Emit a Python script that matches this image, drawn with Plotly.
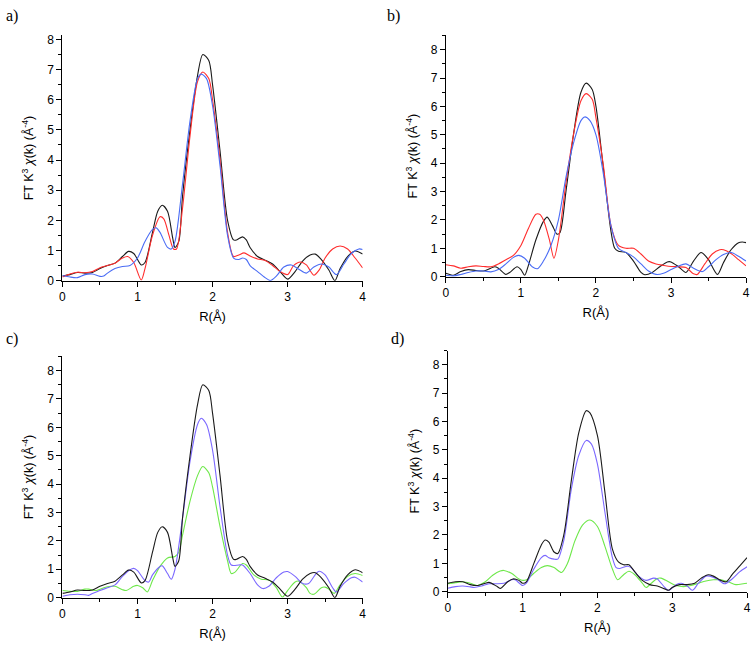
import plotly.graph_objects as go

W, H = 756, 645

# ---------------- data ----------------
# panel a
a_black_r = [0, 0.1, 0.2, 0.3, 0.4, 0.5, 0.6, 0.7, 0.8, 0.88, 0.95, 1.05, 1.1, 1.2, 1.27, 1.33, 1.4, 1.47, 1.5, 1.55, 1.6, 1.7, 1.8, 1.87, 1.95, 2.0, 2.1, 2.2, 2.28, 2.32, 2.4, 2.45, 2.5, 2.6, 2.7, 2.8, 2.9, 3.0, 3.1, 3.2, 3.3, 3.37, 3.45, 3.55, 3.63, 3.7, 3.8, 3.9, 4.0]
a_black_y = [0.15, 0.2, 0.27, 0.25, 0.27, 0.4, 0.5, 0.58, 0.8, 0.97, 0.9, 0.52, 0.6, 1.6, 2.3, 2.5, 2.3, 1.4, 1.1, 1.3, 2.8, 5.0, 6.8, 7.5, 7.3, 6.5, 4.3, 2.0, 1.35, 1.35, 1.45, 1.35, 1.1, 0.8, 0.68, 0.55, 0.3, 0.05, 0.3, 0.65, 0.85, 0.88, 0.7, 0.35, 0.0, 0.4, 0.8, 0.98, 0.88]

a_red_r = [0, 0.1, 0.2, 0.3, 0.4, 0.5, 0.6, 0.7, 0.8, 0.87, 0.95, 1.05, 1.1, 1.2, 1.3, 1.35, 1.42, 1.48, 1.52, 1.6, 1.7, 1.8, 1.87, 1.95, 2.0, 2.1, 2.2, 2.28, 2.35, 2.42, 2.5, 2.6, 2.7, 2.8, 2.9, 3.0, 3.08, 3.17, 3.25, 3.35, 3.42, 3.5, 3.6, 3.7, 3.8, 3.9, 4.0]
a_red_y = [0.12, 0.22, 0.28, 0.26, 0.3, 0.43, 0.5, 0.58, 0.75, 0.8, 0.6, 0.02, 0.4, 1.5, 2.12, 2.05, 1.5, 1.05, 1.05, 2.4, 4.8, 6.6, 6.92, 6.7, 6.0, 4.0, 1.6, 0.8, 0.85, 0.92, 0.82, 0.72, 0.67, 0.5, 0.3, 0.2, 0.5, 0.62, 0.52, 0.18, 0.35, 0.75, 1.05, 1.15, 1.05, 0.75, 0.42]

a_blue_r = [0, 0.1, 0.2, 0.3, 0.4, 0.5, 0.55, 0.6, 0.7, 0.8, 0.9, 1.0, 1.1, 1.2, 1.25, 1.3, 1.4, 1.45, 1.5, 1.6, 1.7, 1.8, 1.85, 1.92, 2.0, 2.1, 2.2, 2.28, 2.35, 2.4, 2.45, 2.5, 2.6, 2.7, 2.77, 2.85, 2.95, 3.05, 3.15, 3.25, 3.35, 3.45, 3.55, 3.65, 3.75, 3.85, 3.95, 4.0]
a_blue_y = [0.17, 0.12, 0.1, 0.2, 0.22, 0.14, 0.15, 0.25, 0.4, 0.47, 0.5, 0.75, 1.3, 1.7, 1.75, 1.6, 1.1, 1.05, 1.3, 3.2, 5.3, 6.7, 6.85, 6.7, 5.8, 3.8, 1.5, 0.75, 0.7, 0.75, 0.7, 0.5, 0.3, 0.1, 0.0, 0.15, 0.45, 0.52, 0.38, 0.25, 0.45, 0.55, 0.45, 0.2, 0.55, 0.9, 1.05, 1.03]

# panel b
b_black_r = [0, 0.05, 0.1, 0.2, 0.3, 0.4, 0.5, 0.6, 0.65, 0.7, 0.8, 0.85, 0.95, 1.0, 1.05, 1.1, 1.2, 1.3, 1.35, 1.42, 1.48, 1.52, 1.6, 1.7, 1.8, 1.87, 1.95, 2.0, 2.1, 2.2, 2.25, 2.3, 2.4, 2.5, 2.6, 2.65, 2.75, 2.85, 2.95, 3.0, 3.1, 3.2, 3.3, 3.4, 3.5, 3.55, 3.62, 3.7, 3.8, 3.9, 3.95, 4.0]
b_black_y = [0.12, 0.08, 0.05, 0.18, 0.25, 0.22, 0.2, 0.3, 0.35, 0.3, 0.08, 0.15, 0.35, 0.25, 0.05, 0.4, 1.3, 1.95, 2.1, 1.8, 1.5, 1.55, 3.0, 5.0, 6.5, 6.82, 6.6, 6.0, 3.8, 1.6, 1.0, 0.9, 0.85, 0.55, 0.15, 0.07, 0.15, 0.35, 0.52, 0.52, 0.35, 0.15, 0.55, 0.85, 0.6, 0.35, 0.08, 0.5, 0.95, 1.2, 1.22, 1.2]

b_red_r = [0, 0.1, 0.2, 0.3, 0.4, 0.5, 0.6, 0.7, 0.8, 0.9, 1.0, 1.1, 1.2, 1.25, 1.3, 1.38, 1.44, 1.5, 1.6, 1.7, 1.8, 1.87, 1.95, 2.0, 2.1, 2.2, 2.3, 2.4, 2.5, 2.6, 2.7, 2.8, 2.9, 3.0, 3.1, 3.2, 3.3, 3.35, 3.45, 3.55, 3.65, 3.7, 3.8, 3.9, 4.0]
b_red_y = [0.42, 0.38, 0.3, 0.35, 0.38, 0.36, 0.35, 0.45, 0.6, 0.75, 1.1, 1.7, 2.2, 2.2, 2.0, 1.3, 0.65, 1.3, 3.3, 5.0, 6.2, 6.45, 6.25, 5.6, 3.9, 1.8, 1.1, 1.0, 1.0, 0.8, 0.55, 0.45, 0.4, 0.36, 0.35, 0.32, 0.1, 0.08, 0.45, 0.8, 0.95, 0.95, 0.82, 0.6, 0.38]

b_blue_r = [0, 0.1, 0.2, 0.3, 0.4, 0.5, 0.6, 0.7, 0.8, 0.9, 0.97, 1.05, 1.15, 1.22, 1.3, 1.4, 1.5, 1.6, 1.7, 1.8, 1.85, 1.92, 2.0, 2.1, 2.2, 2.3, 2.4, 2.5, 2.6, 2.7, 2.8, 2.9, 3.0, 3.1, 3.2, 3.3, 3.42, 3.5, 3.6, 3.7, 3.8, 3.9, 4.0]
b_blue_y = [0.05, 0.03, 0.08, 0.15, 0.2, 0.2, 0.17, 0.25, 0.45, 0.68, 0.75, 0.65, 0.35, 0.28, 0.55, 1.1, 2.0, 3.5, 4.7, 5.5, 5.63, 5.5, 5.0, 3.6, 1.8, 1.0, 0.85, 0.7, 0.45, 0.2, 0.08, 0.12, 0.25, 0.38, 0.45, 0.3, 0.18, 0.35, 0.6, 0.78, 0.85, 0.72, 0.55]

# panel c
c_black_r = a_black_r
c_black_y = a_black_y

c_blue_r = [0, 0.1, 0.2, 0.3, 0.35, 0.4, 0.5, 0.6, 0.7, 0.8, 0.9, 0.95, 1.0, 1.1, 1.15, 1.2, 1.3, 1.33, 1.4, 1.45, 1.5, 1.6, 1.7, 1.8, 1.85, 1.92, 2.0, 2.1, 2.2, 2.25, 2.35, 2.4, 2.5, 2.6, 2.67, 2.75, 2.85, 2.95, 3.0, 3.1, 3.2, 3.28, 3.38, 3.42, 3.5, 3.6, 3.65, 3.75, 3.85, 3.9, 4.0]
c_blue_y = [0.05, 0.1, 0.12, 0.1, 0.08, 0.15, 0.25, 0.35, 0.45, 0.75, 0.98, 1.03, 0.95, 0.6, 0.55, 0.8, 1.1, 1.12, 0.85, 0.65, 1.0, 2.8, 4.8, 6.1, 6.32, 6.1, 5.2, 3.2, 1.5, 1.15, 1.15, 1.15, 0.85, 0.45, 0.32, 0.4, 0.7, 0.9, 0.92, 0.75, 0.5, 0.5, 0.85, 0.93, 0.8, 0.35, 0.2, 0.5, 0.7, 0.72, 0.55]

c_green_r = [0, 0.1, 0.2, 0.3, 0.35, 0.45, 0.55, 0.65, 0.7, 0.8, 0.85, 0.95, 1.0, 1.07, 1.13, 1.2, 1.3, 1.4, 1.5, 1.55, 1.6, 1.7, 1.8, 1.87, 1.95, 2.0, 2.1, 2.2, 2.25, 2.3, 2.4, 2.45, 2.55, 2.65, 2.75, 2.85, 2.93, 3.0, 3.1, 3.15, 3.25, 3.3, 3.35, 3.45, 3.5, 3.55, 3.62, 3.7, 3.8, 3.9, 4.0]
c_green_y = [0.25, 0.22, 0.22, 0.3, 0.3, 0.25, 0.35, 0.4, 0.4, 0.28, 0.25, 0.4, 0.43, 0.35, 0.2, 0.6, 1.1, 1.4, 1.45, 1.6, 2.2, 3.4, 4.3, 4.62, 4.4, 3.9, 2.5, 1.3, 0.85, 0.9, 1.2, 1.15, 0.8, 0.65, 0.62, 0.35, 0.02, 0.25, 0.55, 0.58, 0.35, 0.15, 0.12, 0.35, 0.37, 0.3, 0.15, 0.45, 0.75, 0.85, 0.78]

# panel d
d_black_r = [0, 0.1, 0.2, 0.3, 0.4, 0.5, 0.55, 0.65, 0.7, 0.8, 0.87, 0.95, 1.0, 1.05, 1.15, 1.25, 1.3, 1.35, 1.42, 1.47, 1.55, 1.65, 1.75, 1.85, 1.9, 2.0, 2.1, 2.2, 2.28, 2.35, 2.42, 2.5, 2.6, 2.7, 2.8, 2.9, 2.95, 3.0, 3.1, 3.2, 3.3, 3.4, 3.48, 3.55, 3.65, 3.72, 3.8, 3.9, 4.0]
d_black_y = [0.3, 0.35, 0.35, 0.25, 0.22, 0.3, 0.33, 0.2, 0.12, 0.35, 0.45, 0.4, 0.3, 0.35, 1.0, 1.65, 1.82, 1.75, 1.4, 1.35, 2.0, 3.9, 5.6, 6.38, 6.3, 5.5, 3.5, 1.5, 1.05, 0.95, 0.95, 0.7, 0.4, 0.25, 0.2, 0.1, 0.05, 0.15, 0.25, 0.25, 0.3, 0.5, 0.6, 0.55, 0.4, 0.35, 0.6, 0.9, 1.2]

d_blue_r = [0, 0.1, 0.2, 0.3, 0.35, 0.45, 0.55, 0.65, 0.75, 0.85, 0.9, 1.0, 1.05, 1.15, 1.25, 1.3, 1.35, 1.42, 1.47, 1.55, 1.65, 1.75, 1.85, 1.92, 2.0, 2.1, 2.2, 2.25, 2.3, 2.4, 2.45, 2.55, 2.65, 2.75, 2.8, 2.9, 2.95, 3.05, 3.12, 3.2, 3.27, 3.35, 3.45, 3.5, 3.6, 3.7, 3.8, 3.9, 4.0]
d_blue_y = [0.12, 0.18, 0.2, 0.17, 0.15, 0.2, 0.28, 0.28, 0.3, 0.42, 0.42, 0.22, 0.3, 0.8, 1.2, 1.28, 1.2, 1.15, 1.15, 1.8, 3.6, 4.8, 5.33, 5.2, 4.5, 2.8, 1.2, 0.85, 0.82, 0.9, 0.85, 0.55, 0.4, 0.48, 0.45, 0.15, 0.05, 0.25, 0.3, 0.2, 0.05, 0.3, 0.55, 0.55, 0.45, 0.28, 0.45, 0.7, 0.88]

d_green_r = [0, 0.1, 0.2, 0.3, 0.4, 0.5, 0.6, 0.7, 0.75, 0.85, 0.95, 1.0, 1.05, 1.15, 1.25, 1.33, 1.42, 1.52, 1.6, 1.7, 1.8, 1.9, 2.0, 2.1, 2.2, 2.27, 2.35, 2.42, 2.5, 2.6, 2.65, 2.72, 2.8, 2.85, 2.95, 3.05, 3.15, 3.25, 3.35, 3.45, 3.55, 3.65, 3.75, 3.85, 3.95, 4.0]
d_green_y = [0.28, 0.32, 0.35, 0.3, 0.22, 0.35, 0.58, 0.73, 0.75, 0.65, 0.45, 0.4, 0.42, 0.65, 0.85, 0.92, 0.85, 0.68, 1.0, 1.8, 2.35, 2.53, 2.3, 1.6, 0.8, 0.42, 0.6, 0.72, 0.6, 0.3, 0.15, 0.3, 0.47, 0.48, 0.35, 0.22, 0.18, 0.22, 0.3, 0.38, 0.42, 0.42, 0.35, 0.25, 0.28, 0.3]

x_ticks = [0, 1, 2, 3, 4]
panel_labels = ["a)", "b)", "c)", "d)"]

BLACK = "#1a1a1a"
RED = "#ff2d2d"
BLUE = "#4a6cf5"
VIOLET = "#7b68ff"
GREEN = "#6ee84a"

# panel geometry in pixels: (x0, x1, ytop, ybottom, ymax)
panels = [
    (60, 363, 33, 282, 8.13),
    (447, 750, 33, 278, 8.5),
    (60, 363, 359, 604, 8.5),
    (449, 751, 353, 598, 8.5),
]

series = [
    [(a_black_r, a_black_y, BLACK), (a_red_r, a_red_y, RED), (a_blue_r, a_blue_y, BLUE)],
    [(b_black_r, b_black_y, BLACK), (b_red_r, b_red_y, RED), (b_blue_r, b_blue_y, BLUE)],
    [(c_green_r, c_green_y, GREEN), (c_blue_r, c_blue_y, VIOLET), (c_black_r, c_black_y, BLACK)],
    [(d_green_r, d_green_y, GREEN), (d_blue_r, d_blue_y, VIOLET), (d_black_r, d_black_y, BLACK)],
]

fig = go.Figure()
FONT = "Liberation Sans"
layout = {}
annotations = []
for i, (x0, x1, yt, yb, ymax) in enumerate(panels):
    k = "" if i == 0 else str(i + 1)
    xa, ya = "x" + k, "y" + k
    for r, y, col in series[i]:
        fig.add_trace(go.Scatter(x=r, y=y, mode="lines", xaxis=xa, yaxis=ya,
                                 line=dict(color=col, width=1.1, shape="spline", smoothing=0.8),
                                 showlegend=False, hoverinfo="skip"))
    layout["xaxis" + k] = dict(
        domain=[x0 / W, x1 / W], anchor=ya, range=[0, 4], tickvals=x_ticks,
        showgrid=False, zeroline=False, showline=True, linecolor="black", linewidth=1,
        ticks="outside", ticklen=5, tickcolor="black", tickwidth=1,
        minor=dict(ticks="outside", ticklen=3, dtick=0.5, tickcolor="black", showgrid=False),
        tickfont=dict(family=FONT, size=12, color="black"),
        title=dict(text="R(Å)", font=dict(family=FONT, size=13, color="black"), standoff=8),
    )
    layout["yaxis" + k] = dict(
        domain=[1 - yb / H, 1 - yt / H], anchor=xa, range=[0, ymax], dtick=1,
        showgrid=False, zeroline=False, showline=True, linecolor="black", linewidth=1,
        ticks="outside", ticklen=5, tickcolor="black", tickwidth=1,
        minor=dict(ticks="outside", ticklen=3, dtick=0.5, tickcolor="black", showgrid=False),
        tickfont=dict(family=FONT, size=12, color="black"),
        title=dict(text="FT K<sup>3</sup> <i>χ</i>(k) (Å<sup>-4</sup>)",
                   font=dict(family=FONT, size=12.5, color="black"), standoff=10),
    )

label_pos = [(1, 13), (386, 13), (1, 341), (390, 341)]
for (lx, ly), txt in zip(label_pos, panel_labels):
    annotations.append(dict(text=txt, x=lx / W, y=1 - ly / H, xref="paper", yref="paper",
                            xanchor="left", yanchor="middle", showarrow=False,
                            font=dict(family="Liberation Serif", size=16, color="black")))

fig.update_layout(width=W, height=H, margin=dict(l=0, r=0, t=0, b=0),
                  paper_bgcolor="white", plot_bgcolor="white",
                  annotations=annotations, **layout)

fig.write_html("out.html")
